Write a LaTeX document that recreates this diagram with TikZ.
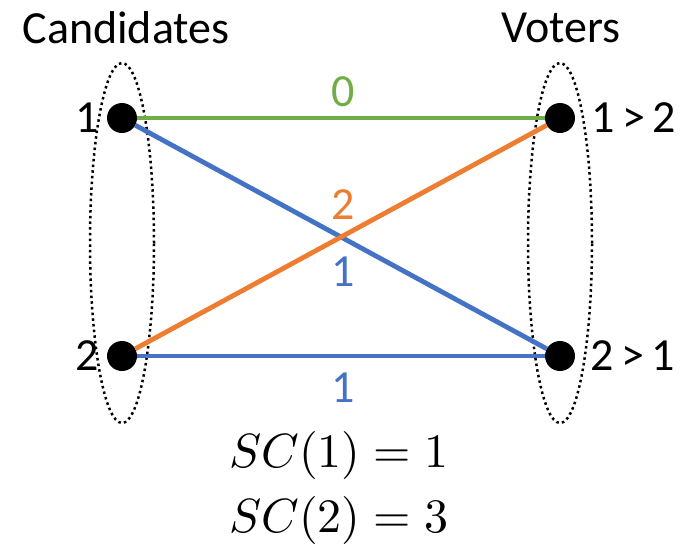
\documentclass[tikz,border=0pt]{standalone}
\usepackage{fontspec}
\setmainfont{Carlito}
\usetikzlibrary{shapes.geometric,positioning}
\definecolor{edgegreen}{RGB}{112,173,71}
\definecolor{edgeorange}{RGB}{237,125,49}
\definecolor{edgeblue}{RGB}{68,114,196}
\tikzset{
  big/.style={font=\fontsize{46}{50}\selectfont},
  bigmath/.style={font=\normalsize,scale=4.8},
  vertex/.style={circle,fill=black,inner sep=0pt,minimum size=30pt},
  group/.style={ellipse,draw,line width=2.5pt,dash pattern=on 2.5pt off 3.2pt,inner sep=0pt,minimum width=64pt,minimum height=360pt},
  link/.style={line width=4.8pt},
}
\begin{document}
\begin{tikzpicture}[x=1pt,y=-1pt]
\useasboundingbox (0,0) rectangle (692,550);
% the two groups
\node[group] (cands) at (122,243) {};
\node[group] (voters) at (560,243) {};
\node[big] (candtitle) at (126,28) {Candidates};
\node[big] (votetitle) at (561,28) {Voters};
% vertices
\node[vertex,label={[big,inner sep=0pt,label distance=8pt]left:1}] (c1) at (122,118) {};
\node[vertex,label={[big,inner sep=0pt,label distance=8pt]left:2}] (c2) at (122,356) {};
\node[vertex,label={[big,inner sep=0pt,label distance=16pt]right:1\,>\,2}] (v1) at (560,118) {};
\node[vertex,label={[big,inner sep=0pt,label distance=15pt]right:2\,>\,1}] (v2) at (560,356) {};
% edges with costs
\draw[link,edgegreen] (c1) -- (v1);
\draw[link,edgeblue] (c1) -- (v2);
\draw[link,edgeorange] (c2) -- (v1);
\draw[link,edgeblue] (c2) -- (v2);
\node[big,text=edgegreen] (w11) at (343,92) {0};
\node[big,text=edgeorange] (w21) at (343,205) {2};
\node[big,text=edgeblue] (w12) at (343,272) {1};
\node[big,text=edgeblue] (w22) at (343,388) {1};
% social costs
\node[bigmath] (sc1) at (339,455) {$SC(1) = 1$};
\node[bigmath] (sc2) at (339,520) {$SC(2) = 3$};
\end{tikzpicture}
\end{document}
